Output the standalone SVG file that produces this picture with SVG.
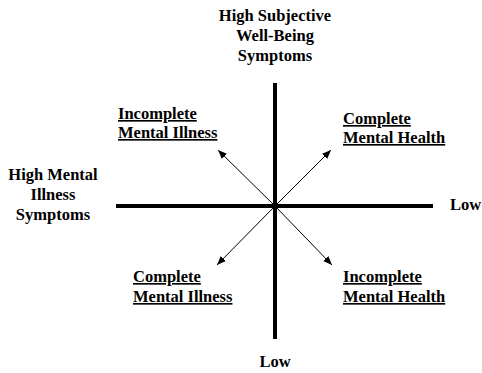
<svg xmlns="http://www.w3.org/2000/svg" width="482" height="373" viewBox="0 0 482 373">
<style>
text{font-family:"Liberation Serif","Times New Roman",serif;font-weight:bold;font-size:16.5px;fill:#000}
.u{text-decoration:underline}
.axis{stroke:#000;stroke-width:4;fill:none}
.arr{stroke:#000;stroke-width:1;fill:none;marker-end:url(#ah)}
</style>
<defs>
<marker id="ah" viewBox="0 0 10 10" refX="10" refY="5" markerWidth="9" markerHeight="9" markerUnits="userSpaceOnUse" orient="auto">
<path d="M0,1 L10,5 L0,9 z" fill="#000"/>
</marker>
</defs>
<rect width="482" height="373" fill="#fff"/>
<g id="connectors">
<line class="axis" x1="275" y1="83" x2="275" y2="339"/>
<line class="axis" x1="116" y1="206" x2="433" y2="206"/>
<line class="arr" x1="275" y1="206" x2="218" y2="150"/>
<line class="arr" x1="275" y1="206" x2="331" y2="150"/>
<line class="arr" x1="275" y1="206" x2="217" y2="265"/>
<line class="arr" x1="275" y1="206" x2="332" y2="265"/>
</g>
<g id="top-label" text-anchor="middle">
<text x="275" y="21">High Subjective</text>
<text x="275" y="41">Well-Being</text>
<text x="275" y="61">Symptoms</text>
</g>
<g id="left-label" text-anchor="middle">
<text x="53" y="180">High Mental</text>
<text x="53" y="200">Illness</text>
<text x="53" y="220">Symptoms</text>
</g>
<g id="right-label"><text x="450" y="210">Low</text></g>
<g id="bottom-label"><text x="275" y="367" text-anchor="middle">Low</text></g>
<g id="incomplete-mental-illness">
<text class="u" x="118" y="119">Incomplete</text>
<text class="u" x="118" y="138">Mental Illness</text>
</g>
<g id="complete-mental-health">
<text class="u" x="343" y="124">Complete</text>
<text class="u" x="343" y="143">Mental Health</text>
</g>
<g id="complete-mental-illness">
<text class="u" x="133" y="282">Complete</text>
<text class="u" x="133" y="302">Mental Illness</text>
</g>
<g id="incomplete-mental-health">
<text class="u" x="343" y="282">Incomplete</text>
<text class="u" x="343" y="302">Mental Health</text>
</g>
</svg>
